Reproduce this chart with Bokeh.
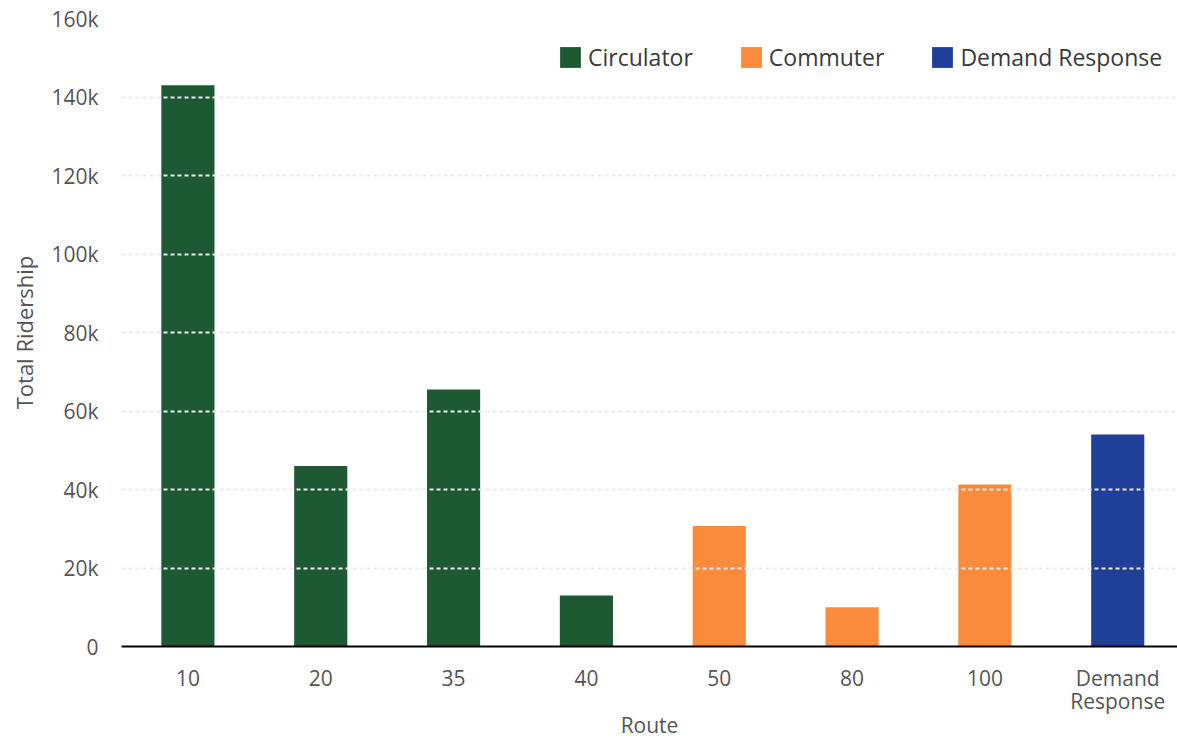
from bokeh.plotting import figure
from bokeh.models import ColumnDataSource, Range1d, FixedTicker, Legend, LegendItem
from bokeh.embed import file_html
from bokeh.resources import INLINE

# ---- data ----
routes = ["10", "20", "35", "40", "50", "80", "100", "Demand\nResponse"]
ridership = [143000, 46000, 65500, 13000, 30700, 10000, 41300, 54000]
service = ["Circulator", "Circulator", "Circulator", "Circulator",
           "Commuter", "Commuter", "Commuter", "Demand Response"]
groups = ["Circulator", "Commuter", "Demand Response"]
colors = ["#1d5a34", "#fa8a3c", "#1f3f99"]
y_ticks = [0, 20000, 40000, 60000, 80000, 100000, 120000, 140000, 160000]
y_tick_labels = ["0", "20k", "40k", "60k", "80k", "100k", "120k", "140k", "160k"]

FONT = "Open Sans"
TXT = "#555555"

p = figure(width=1177, height=742, output_backend="svg", toolbar_location=None,
           x_range=Range1d(-0.5, 7.45), y_range=Range1d(0, 160000))
p.min_border_left = 121
p.min_border_right = 0
p.min_border_top = 18
p.min_border_bottom = 95
p.outline_line_color = None
p.background_fill_color = "white"
p.border_fill_color = "white"

renderers = {}
for g, c in zip(groups, colors):
    idx = [i for i, s in enumerate(service) if s == g]
    src = ColumnDataSource(dict(x=idx, top=[ridership[i] for i in idx]))
    renderers[g] = p.vbar(x="x", top="top", width=0.4, bottom=0, source=src,
                          fill_color=c, line_color=None)

# axes
p.xaxis.ticker = FixedTicker(ticks=list(range(len(routes))))
p.xaxis.major_label_overrides = {i: r for i, r in enumerate(routes)}
p.xaxis.major_tick_line_color = None
p.xaxis.minor_tick_line_color = None
p.xaxis.axis_line_color = "black"
p.xaxis.axis_line_width = 2
p.xaxis.major_label_text_font = FONT
p.xaxis.major_label_text_font_size = "21px"
p.xaxis.major_label_text_color = TXT
p.xaxis.major_label_text_line_height = 0.85
p.xaxis.major_label_standoff = 11
p.xaxis.axis_label = "Route"
p.xaxis.axis_label_text_font = FONT
p.xaxis.axis_label_text_font_size = "21px"
p.xaxis.axis_label_text_font_style = "normal"
p.xaxis.axis_label_text_color = TXT
p.xaxis.axis_label_standoff = -7

p.yaxis.ticker = FixedTicker(ticks=y_ticks)
p.yaxis.major_label_overrides = {t: l for t, l in zip(y_ticks, y_tick_labels)}
p.yaxis.major_tick_line_color = None
p.yaxis.minor_tick_line_color = None
p.yaxis.axis_line_color = None
p.yaxis.major_label_text_font = FONT
p.yaxis.major_label_text_font_size = "21px"
p.yaxis.major_label_text_color = TXT
p.yaxis.major_label_standoff = 17
p.yaxis.axis_label = "Total Ridership"
p.yaxis.axis_label_text_font = FONT
p.yaxis.axis_label_text_font_size = "22px"
p.yaxis.axis_label_text_font_style = "normal"
p.yaxis.axis_label_text_color = TXT
p.yaxis.axis_label_standoff = 9

# grid
p.xgrid.grid_line_color = None
p.ygrid.ticker = FixedTicker(ticks=y_ticks[1:])
p.ygrid.grid_line_color = "#ececec"
p.ygrid.grid_line_dash = "4 3"
p.ygrid.grid_line_width = 2
p.ygrid.level = "overlay"

legend = Legend(items=[LegendItem(label=g, renderers=[renderers[g]]) for g in groups],
                orientation="horizontal", location=(436, 573))
legend.glyph_width = 26
legend.glyph_height = 26
legend.label_height = 26
legend.label_standoff = 5
legend.spacing = 45
legend.padding = 0
legend.margin = 0
legend.border_line_color = None
legend.background_fill_alpha = 0
legend.label_text_font = FONT
legend.label_text_font_size = "23px"
legend.label_text_color = "#3a3a3a"
p.add_layout(legend)

open("out.html", "w").write(file_html(p, INLINE))
